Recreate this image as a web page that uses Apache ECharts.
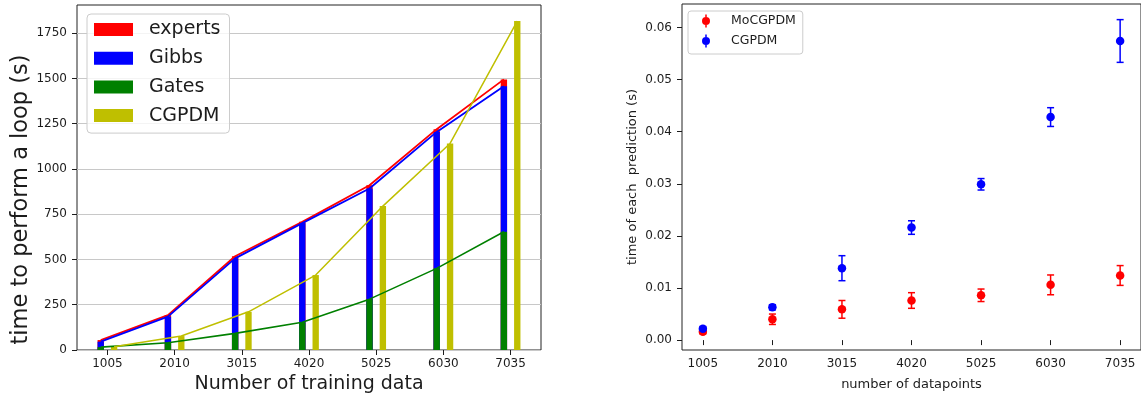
<!DOCTYPE html>
<html>
<head>
<meta charset="utf-8">
<script src="https://cdn.jsdelivr.net/npm/echarts@6/dist/echarts.min.js"></script>
<style>
  html, body { margin: 0; padding: 0; background: #ffffff; }
  #chart { width: 1141px; height: 399px; }
</style>
</head>
<body>
<div id="chart"></div>
<script>
// Training-set sizes shared by both panels
const sizes = [1005, 2010, 3015, 4020, 5025, 6030, 7035];

// Left panel: seconds needed for one training loop
const expertsLoop = [55, 193, 518, 708, 910, 1220, 1495];
const gibbsLoop   = [46, 184, 506, 701, 892, 1205, 1457];
const gatesLoop   = [16, 40, 92, 153, 281, 451, 653];
const cgpdmLoop   = [18, 77, 211, 414, 795, 1141, 1817];
const loopTicks   = [0, 250, 500, 750, 1000, 1250, 1500, 1750];

// Right panel: seconds per prediction (mean and spread)
const mocgpdmPred    = [0.0016, 0.0040, 0.0059, 0.0076, 0.0086, 0.0106, 0.0124];
const mocgpdmPredErr = [0.0004, 0.0010, 0.0017, 0.0015, 0.0012, 0.0019, 0.0019];
const cgpdmPred      = [0.0022, 0.0063, 0.0138, 0.0216, 0.0299, 0.0428, 0.0574];
const cgpdmPredErr   = [0.0004, 0.0005, 0.0024, 0.0013, 0.0011, 0.0018, 0.0041];
const predTicks      = [0, 0.01, 0.02, 0.03, 0.04, 0.05, 0.06];

const FONT = 'DejaVu Sans';
const INK = '#1c1c1c';
const RED = '#ff0000', BLUE = '#0000ff', GREEN = '#008000', OLIVE = '#bfbf00';

// bars sit slightly left (experts/Gibbs/Gates) or right (CGPDM) of each size
const SLOT = 100;       // x offset in data units
const BAR_W = 95;       // bar width in data units

const at = (vals, dx) => sizes.map((s, i) => [s + dx, vals[i]]);
const withErr = (vals, errs) => sizes.map((s, i) => [s, vals[i], errs[i]]);

function barItem(params, api) {
  const x = api.value(0), v = api.value(1);
  const base = api.coord([x, 0]);
  const top = api.coord([x, v]);
  const w = api.size([BAR_W, 0])[0];
  return {
    type: 'rect',
    shape: { x: base[0] - w / 2, y: top[1], width: w, height: base[1] - top[1] },
    style: { fill: api.visual('color') }
  };
}

function errItem(params, api) {
  const x = api.value(0), y = api.value(1), e = api.value(2);
  const lo = api.coord([x, y - e]);
  const hi = api.coord([x, y + e]);
  const cap = 3.5;
  const st = { stroke: api.visual('color'), lineWidth: 1.5 };
  return {
    type: 'group',
    children: [
      { type: 'line', shape: { x1: lo[0], y1: lo[1], x2: hi[0], y2: hi[1] }, style: st },
      { type: 'line', shape: { x1: lo[0] - cap, y1: lo[1], x2: lo[0] + cap, y2: lo[1] }, style: st },
      { type: 'line', shape: { x1: hi[0] - cap, y1: hi[1], x2: hi[0] + cap, y2: hi[1] }, style: st }
    ]
  };
}

function barSeries(name, vals, dx, color) {
  return {
    type: 'custom', name: name, xAxisIndex: 0, yAxisIndex: 0,
    renderItem: barItem, encode: { x: 0, y: 1 },
    itemStyle: { color: color }, data: at(vals, dx), z: 2
  };
}
function lineSeries(name, vals, dx, color, width) {
  return {
    type: 'line', name: name, xAxisIndex: 0, yAxisIndex: 0,
    data: at(vals, dx), showSymbol: false, symbol: 'none',
    lineStyle: { color: color, width: width }, itemStyle: { color: color }, z: 3
  };
}

// legend handle: dot with a vertical error bar
const ERR_ICON = 'path://M3.25,0L4.75,0L4.75,13L3.25,13Z M0,6.5A4,4 0 1 1 8,6.5A4,4 0 1 1 0,6.5Z';

const tickLine = { color: INK, width: 1 };
const labelStyle = { fontFamily: FONT, fontSize: 12, color: INK };
const plain = v => String(v);

const option = {
  animation: false,
  backgroundColor: '#ffffff',
  grid: [
    { left: 77, top: 5, width: 464, height: 346, show: true, borderColor: '#222', borderWidth: 1, backgroundColor: 'transparent' },
    { left: 682, top: 4, width: 463, height: 346, show: true, borderColor: '#222', borderWidth: 1, backgroundColor: 'transparent' }
  ],
  xAxis: [
    {
      gridIndex: 0, type: 'value', min: 550, max: 7490,
      name: 'Number of training data', nameLocation: 'middle', nameGap: 25,
      nameTextStyle: { fontFamily: FONT, fontSize: 19, color: INK },
      axisLine: { show: false },
      axisTick: { show: true, customValues: sizes, length: 5, lineStyle: tickLine },
      axisLabel: Object.assign({ customValues: sizes, margin: 8, formatter: plain }, labelStyle),
      splitLine: { show: false }
    },
    {
      gridIndex: 1, type: 'value', min: 703.5, max: 7336.5,
      name: 'number of datapoints', nameLocation: 'middle', nameGap: 28,
      nameTextStyle: { fontFamily: FONT, fontSize: 13, color: INK },
      axisLine: { show: false },
      axisTick: { show: true, customValues: sizes, length: 5, lineStyle: tickLine },
      axisLabel: Object.assign({ customValues: sizes, margin: 8, formatter: plain }, labelStyle),
      splitLine: { show: false }
    }
  ],
  yAxis: [
    {
      gridIndex: 0, type: 'value', min: 0, max: 1906, interval: 250,
      name: 'time to perform a loop (s)', nameLocation: 'middle', nameGap: 44,
      nameTextStyle: { fontFamily: FONT, fontSize: 22.5, color: INK, padding: [0, 44, 0, 0] },
      axisLine: { show: false },
      axisTick: { show: true, customValues: loopTicks, length: 5, lineStyle: tickLine },
      axisLabel: Object.assign({ customValues: loopTicks, margin: 10, formatter: plain }, labelStyle),
      splitLine: { show: true, lineStyle: { color: '#c8c8c8', width: 1 } }
    },
    {
      gridIndex: 1, type: 'value', min: -0.0019, max: 0.0645,
      name: 'time of each  prediction (s)', nameLocation: 'middle', nameGap: 43,
      nameTextStyle: { fontFamily: FONT, fontSize: 13, color: INK },
      axisLine: { show: false },
      axisTick: { show: true, customValues: predTicks, length: 5, lineStyle: tickLine },
      axisLabel: Object.assign({ customValues: predTicks, margin: 10, formatter: v => v.toFixed(2) }, labelStyle),
      splitLine: { show: false }
    }
  ],
  legend: [
    {
      orient: 'vertical', left: 87, top: 14,
      data: ['experts', 'Gibbs', 'Gates', 'CGPDM'].map(n => ({ name: n, icon: 'rect' })),
      itemWidth: 39, itemHeight: 13, itemGap: 9.7,
      padding: [6, 9, 8, 7],
      backgroundColor: 'rgba(255,255,255,0.8)', borderColor: '#cccccc', borderWidth: 1, borderRadius: 4,
      textStyle: { fontFamily: FONT, fontSize: 19, lineHeight: 19, color: INK, padding: [0, 0, 0, 11] },
      selectedMode: false
    },
    {
      orient: 'vertical', left: 688, top: 11,
      data: [{ name: 'pred:MoCGPDM', icon: ERR_ICON }, { name: 'pred:CGPDM', icon: ERR_ICON }],
      formatter: n => n.replace('pred:', ''),
      itemWidth: 8, itemHeight: 13, itemGap: 6,
      padding: [3, 7, 6, 14],
      backgroundColor: 'rgba(255,255,255,0.8)', borderColor: '#cccccc', borderWidth: 1, borderRadius: 3,
      textStyle: { fontFamily: FONT, fontSize: 12.5, lineHeight: 14, color: INK, padding: [0, 0, 0, 16] },
      selectedMode: false
    }
  ],
  series: [
    barSeries('experts', expertsLoop, -SLOT, RED),
    barSeries('Gibbs', gibbsLoop, -SLOT, BLUE),
    barSeries('Gates', gatesLoop, -SLOT, GREEN),
    barSeries('CGPDM', cgpdmLoop, SLOT, OLIVE),
    lineSeries('experts', expertsLoop, -SLOT, RED, 1.8),
    lineSeries('Gibbs', gibbsLoop, -SLOT, BLUE, 1.8),
    lineSeries('Gates', gatesLoop, -SLOT, GREEN, 1.6),
    lineSeries('CGPDM', cgpdmLoop, SLOT, OLIVE, 1.5),

    {
      type: 'scatter', name: 'pred:MoCGPDM', xAxisIndex: 1, yAxisIndex: 1,
      data: sizes.map((s, i) => [s, mocgpdmPred[i]]), symbolSize: 8.5,
      itemStyle: { color: RED, opacity: 1 }, z: 4
    },
    {
      type: 'scatter', name: 'pred:CGPDM', xAxisIndex: 1, yAxisIndex: 1,
      data: sizes.map((s, i) => [s, cgpdmPred[i]]), symbolSize: 8.5,
      itemStyle: { color: BLUE, opacity: 1 }, z: 5
    },
    {
      type: 'custom', name: 'pred:MoCGPDM', xAxisIndex: 1, yAxisIndex: 1,
      renderItem: errItem, encode: { x: 0, y: 1 },
      itemStyle: { color: RED }, data: withErr(mocgpdmPred, mocgpdmPredErr), z: 3
    },
    {
      type: 'custom', name: 'pred:CGPDM', xAxisIndex: 1, yAxisIndex: 1,
      renderItem: errItem, encode: { x: 0, y: 1 },
      itemStyle: { color: BLUE }, data: withErr(cgpdmPred, cgpdmPredErr), z: 3
    }
  ]
};

const chart = echarts.init(document.getElementById('chart'), null, { renderer: 'canvas' });
chart.setOption(option);
</script>
</body>
</html>
